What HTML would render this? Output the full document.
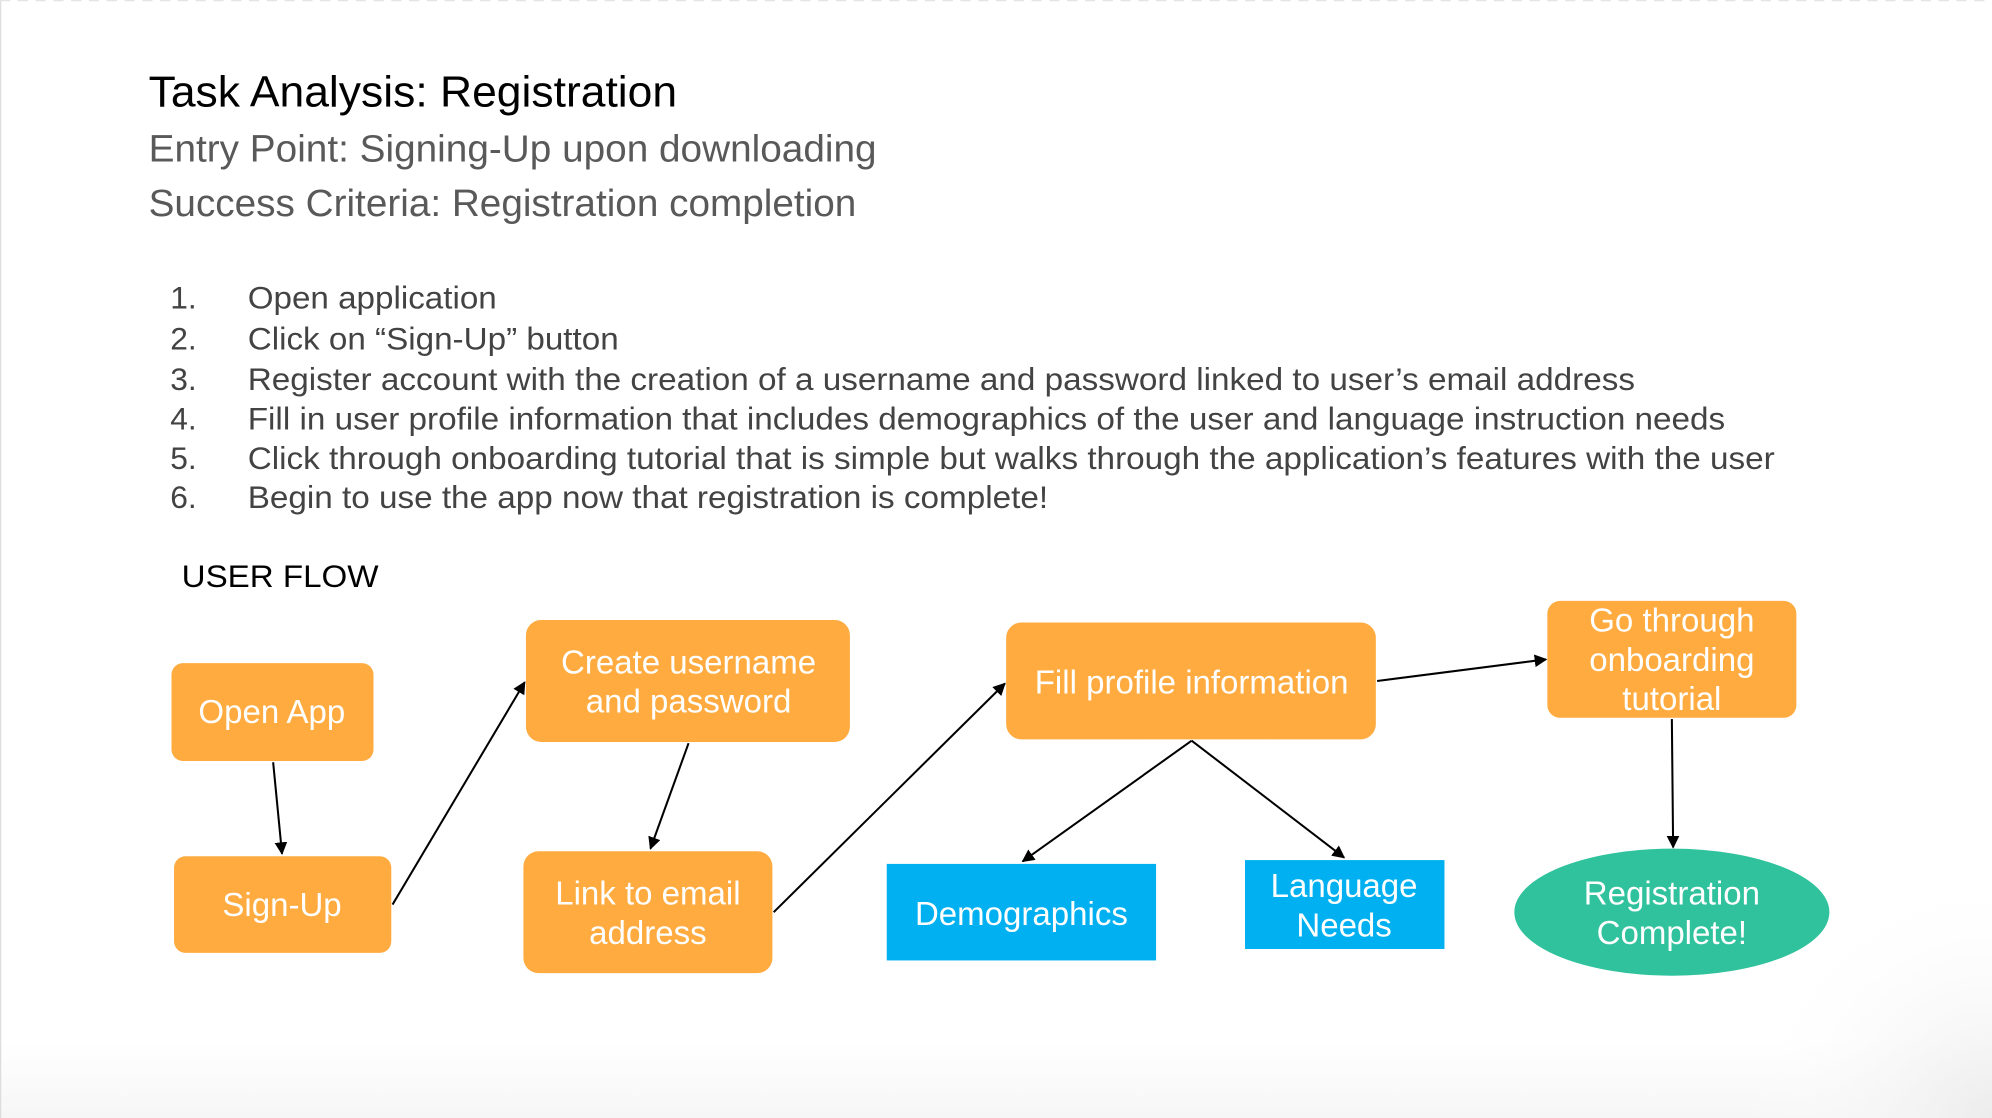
<!DOCTYPE html>
<html><head><meta charset="utf-8"><style>
html,body{margin:0;padding:0;background:#fff;}
svg{display:block;}
text{font-family:"Liberation Sans",Arial,sans-serif;}
</style></head><body>
<svg width="1992" height="1118" viewBox="0 0 1568 880" xmlns="http://www.w3.org/2000/svg">
<defs>
<marker id="a" markerWidth="10" markerHeight="10" refX="9" refY="5" orient="auto" markerUnits="userSpaceOnUse">
<path d="M0,0 L10,5 L0,10 z" fill="#000"/></marker>
<radialGradient id="g" cx="1568" cy="880" r="200" gradientUnits="userSpaceOnUse">
<stop offset="0" stop-color="#ececec"/><stop offset="1" stop-color="#fff" stop-opacity="0"/></radialGradient>
<linearGradient id="b" x1="0" y1="820" x2="0" y2="880" gradientUnits="userSpaceOnUse">
<stop offset="0" stop-color="#fff"/><stop offset="1" stop-color="#f6f6f6"/></linearGradient>
</defs>
<rect width="1568" height="880" fill="#fff"/>
<rect y="820" width="1568" height="60" fill="url(#b)"/>
<rect width="1568" height="880" fill="url(#g)"/>
<line x1="0.5" y1="0" x2="0.5" y2="880" stroke="#ddd"/>
<line x1="0" y1="0.5" x2="1568" y2="0.5" stroke="#e4e4e4" stroke-dasharray="8,6"/>

<text x="117" y="84" font-size="34" fill="#000" textLength="416" lengthAdjust="spacingAndGlyphs">Task Analysis: Registration</text>
<text x="117" y="127" font-size="30" fill="#595959" textLength="573" lengthAdjust="spacingAndGlyphs">Entry Point: Signing-Up upon downloading</text>
<text x="117" y="170" font-size="30" fill="#595959" textLength="557" lengthAdjust="spacingAndGlyphs">Success Criteria: Registration completion</text>

<g font-size="25" fill="#434343">
<text x="134" y="243">1.</text><text x="195" y="243" textLength="196" lengthAdjust="spacingAndGlyphs">Open application</text>
<text x="134" y="275">2.</text><text x="195" y="275" textLength="292" lengthAdjust="spacingAndGlyphs">Click on “Sign-Up” button</text>
<text x="134" y="307">3.</text><text x="195" y="307" textLength="1092" lengthAdjust="spacingAndGlyphs">Register account with the creation of a username and password linked to user’s email address</text>
<text x="134" y="338">4.</text><text x="195" y="338" textLength="1163" lengthAdjust="spacingAndGlyphs">Fill in user profile information that includes demographics of the user and language instruction needs</text>
<text x="134" y="369">5.</text><text x="195" y="369" textLength="1202" lengthAdjust="spacingAndGlyphs">Click through onboarding tutorial that is simple but walks through the application’s features with the user</text>
<text x="134" y="400">6.</text><text x="195" y="400" textLength="630" lengthAdjust="spacingAndGlyphs">Begin to use the app now that registration is complete!</text>
</g>
<text x="143" y="462" font-size="25" fill="#000" textLength="155" lengthAdjust="spacingAndGlyphs">USER FLOW</text>

<g fill="#ffab40">
<rect x="135" y="522" width="159" height="77" rx="9"/>
<rect x="137" y="674" width="171" height="76" rx="9"/>
<rect x="414" y="488" width="255" height="96" rx="12"/>
<rect x="412" y="670" width="196" height="96" rx="12"/>
<rect x="792" y="490" width="291" height="92" rx="12"/>
<rect x="1218" y="473" width="196" height="92" rx="10"/>
</g>
<rect x="698" y="680" width="212" height="76" fill="#00b0f0"/>
<rect x="980" y="677" width="157" height="70" fill="#00b0f0"/>
<ellipse cx="1316" cy="718" rx="124" ry="50" fill="#2fc29c"/>

<g font-size="26" fill="#fff" text-anchor="middle">
<text x="214" y="569">Open App</text>
<text x="222" y="721">Sign-Up</text>
<text x="542" y="530">Create username</text>
<text x="542" y="561">and password</text>
<text x="510" y="712">Link to email</text>
<text x="510" y="743">address</text>
<text x="938" y="546">Fill profile information</text>
<text x="1316" y="497">Go through</text>
<text x="1316" y="528">onboarding</text>
<text x="1316" y="559">tutorial</text>
<text x="804" y="728">Demographics</text>
<text x="1058" y="706">Language</text>
<text x="1058" y="737">Needs</text>
<text x="1316" y="712">Registration</text>
<text x="1316" y="743">Complete!</text>
</g>

<g stroke="#000" stroke-width="1.6" fill="none" marker-end="url(#a)">
<line x1="215" y1="600" x2="222" y2="672"/>
<line x1="309" y1="712" x2="413" y2="537"/>
<line x1="542" y1="585" x2="512" y2="668"/>
<line x1="609" y1="718" x2="791" y2="538"/>
<line x1="938" y1="583" x2="805" y2="678"/>
<line x1="938" y1="583" x2="1058" y2="675"/>
<line x1="1084" y1="536" x2="1217" y2="519"/>
<line x1="1316" y1="566" x2="1317" y2="667"/>
</g>
</svg>
</body></html>
